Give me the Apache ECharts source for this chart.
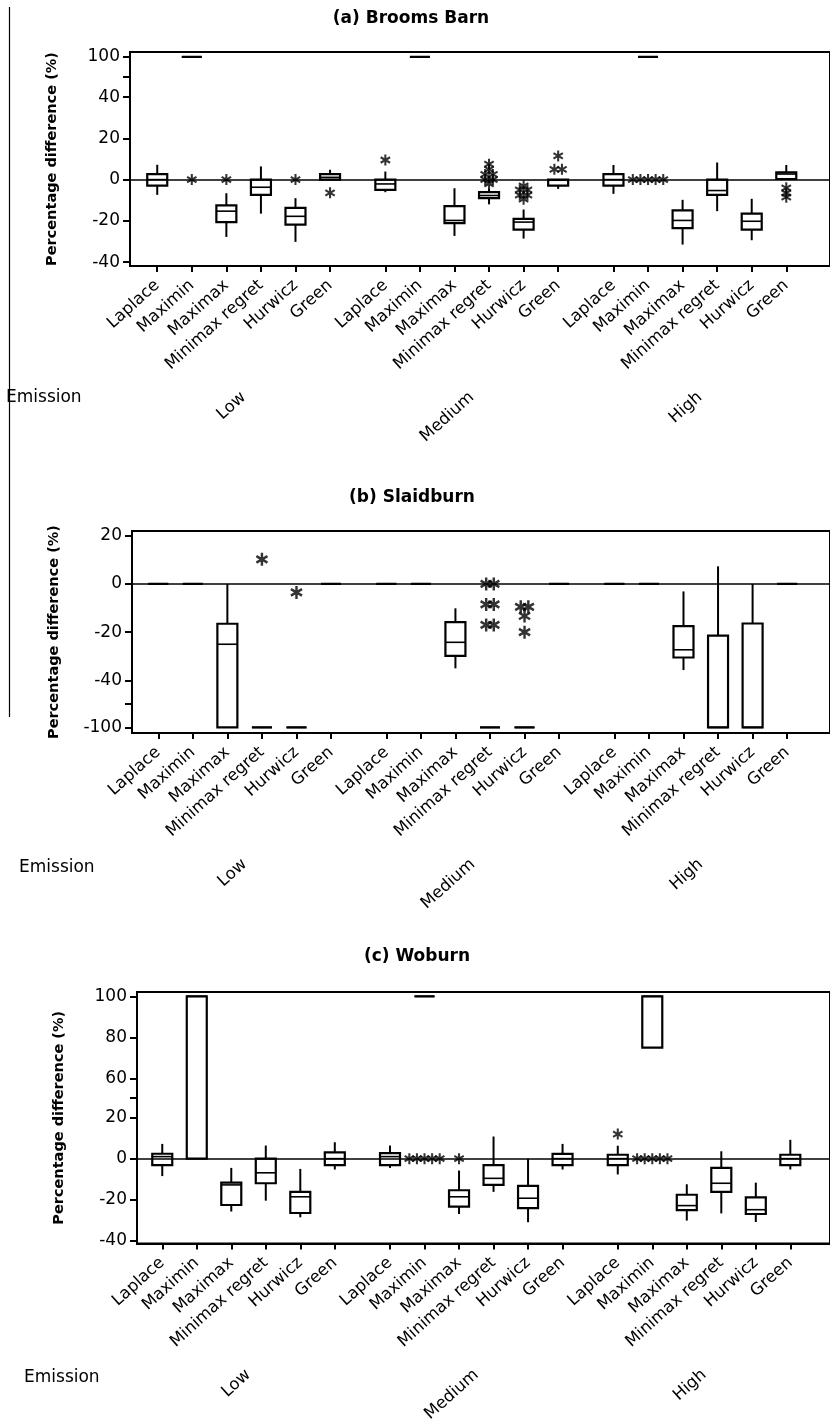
<!DOCTYPE html>
<html><head><meta charset="utf-8">
<script src="https://cdn.jsdelivr.net/npm/echarts@6/dist/echarts.min.js"></script>
<style>html,body{margin:0;padding:0;background:#fff}#c{width:830px;height:1425px}</style>
</head><body><div id="c"></div>
<script>
// ---------- categories and labels ----------
const methods = ['Laplace', 'Maximin', 'Maximax', 'Minimax regret', 'Hurwicz', 'Green'];
const emissions = ['Low', 'Medium', 'High'];
const panelTitles = ['(a) Brooms Barn', '(b) Slaidburn', '(c) Woburn'];
const yAxisTitle = 'Percentage difference (%)';
const rowLabel = 'Emission';

// ---------- tick labels ----------
const yTickLabelsA = [-40, -20, 0, 20, 40, 100];
const yTickMarksA = [-40, -20, 0, 20, 40, 70, 100];
const yTickLabelsB = [-100, -40, -20, 0, 20];
const yTickMarksB = [-100, -70, -40, -20, 0, 20];
const yTickLabelsC = [-40, -20, 0, 20, 60, 80, 100];
const yTickMarksC = [-40, -20, 0, 20, 40, 60, 80, 100];

// ---------- box values [min, Q1, median, Q3, max]; order: Low x6, Medium x6, High x6 ----------
const boxesA = [
  [-7.4, -2.9, 0, 2.7, 7.2], [100, 100, 100, 100, 100], [-27.8, -20.6, -15.3, -12.5, -6.6],
  [-16.5, -7.4, -3.7, 0, 6.4], [-30.2, -21.8, -17.8, -13.7, -9], [0, 0, 1.1, 2.7, 4.8],
  [-6.1, -5, -2.1, 0, 3.9], [100, 100, 100, 100, 100], [-27.3, -21.1, -19.8, -12.9, -4.2],
  [-12, -9, -7.7, -6.1, -4.5], [-28.6, -24.3, -20.6, -19, -14.5], [-4.5, -2.9, -0.3, 0, 0],
  [-6.9, -2.9, 0, 2.7, 7.1], [100, 100, 100, 100, 100], [-31.5, -23.5, -19.8, -14.9, -9.8],
  [-15.3, -7.4, -5.3, 0, 8.3], [-29.4, -24.3, -20.2, -16.5, -9.3], [0.3, 0.3, 2.7, 3.5, 7.1]
];
const outliersA = [
  [], [0], [0], [], [0], [-6.4],
  [9.5], [], [], [7.5, 5, 2.5, 2.5, 0, 0, -2], [-3, -5, -5, -7.5, -7.5, -9.5], [11.5, 5, 5],
  [], [0, 0, 0, 0, 0], [], [], [], [-4, -6.5, -8.5]
];
const boxesB = [
  [0, 0, 0, 0, 0], [0, 0, 0, 0, 0], [-100, -100, -25, -16.5, 0],
  [-100, -100, -100, -100, -100], [-100, -100, -100, -100, -100], [0, 0, 0, 0, 0],
  [0, 0, 0, 0, 0], [0, 0, 0, 0, 0], [-35, -29.8, -24.2, -15.8, -10.1],
  [-100, -100, -100, -100, -100], [-100, -100, -100, -100, -100], [0, 0, 0, 0, 0],
  [0, 0, 0, 0, 0], [0, 0, 0, 0, 0], [-35.7, -30.5, -27.3, -17.5, -3.1],
  [-100, -100, -100, -21.4, 7.3], [-100, -100, -100, -16.4, 0], [0, 0, 0, 0, 0]
];
const outliersB = [
  [], [], [], [10.2], [-3.5], [],
  [], [], [], [0, 0, -8.5, -8.5, -17, -17], [-9.5, -9.5, -13.3, -20], [],
  [], [], [], [], [], []
];
const boxesC = [
  [-8.5, -3.2, 1, 2.4, 7.2], [0, 0, 100, 100, 100], [-25.8, -22.6, -12.8, -11.7, -4.5],
  [-20.5, -12, -6.9, 0, 6.4], [-28.6, -26.5, -18.6, -16.2, -5], [-5.3, -3.2, 0, 3.1, 8],
  [-4.5, -3.2, 1, 2.7, 6.4], [100, 100, 100, 100, 100], [-27, -23.4, -18.6, -15.4, -5.8],
  [-16.2, -12.8, -9.6, -3.2, 10.8], [-31, -24.1, -19.3, -13.3, 0], [-5.3, -3.2, 0, 2.3, 7.2],
  [-7.7, -3.2, 0, 1.9, 6.3], [75, 75, 100, 100, 100], [-30.2, -25.1, -22.9, -17.6, -12.5],
  [-26.7, -16.2, -12, -4.5, 3.6], [-30.9, -27, -24.9, -18.9, -11.7], [-5.3, -3.2, 0, 1.9, 9.2]
];
const outliersC = [
  [], [], [], [], [], [],
  [], [0, 0, 0, 0, 0], [0], [], [], [],
  [12], [0, 0, 0, 0, 0], [], [], [], []
];

// ---------- layout (positions on the value x-axis, group gap between emission levels) ----------
const GROUP_GAP = 0.6;
const positions = [];
emissions.forEach((e, g) => methods.forEach((m, i) => positions.push(g * (methods.length + GROUP_GAP) + i)));
const groupCenters = emissions.map((e, g) => {
  const p = positions.slice(g * methods.length, (g + 1) * methods.length);
  return (p[0] + p[p.length - 1]) / 2;
});
const FONT = 'DejaVu Sans';
const STAR = 'path://M-1.9,-10L1.9,-10L1.9,10L-1.9,10Z M7.71,-6.65L9.61,-3.35L-7.71,6.65L-9.61,3.35Z M-9.61,-3.35L-7.71,-6.65L9.61,3.35L7.71,6.65Z';

const panels = [
  { boxes: boxesA, outliers: outliersA, yLabels: yTickLabelsA, yMarks: yTickMarksA,
    grid: { left: 130, top: 52, width: 720, height: 214 }, xMin: -0.788, xMax: 19.465,
    yMin: -41.9, yMax: 102.4, breaks: [{ start: 40, end: 70, gap: 9.75 }, { start: 70, end: 100, gap: 9.75 }],
    star: 11, title: [411, 19], emission: [6, 398] },
  { boxes: boxesB, outliers: outliersB, yLabels: yTickLabelsB, yMarks: yTickMarksB,
    grid: { left: 132, top: 531, width: 718, height: 202 }, xMin: -0.76, xMax: 19.44,
    yMin: -102.3, yMax: 21.95, breaks: [{ start: -100, end: -70, gap: 9.75 }, { start: -70, end: -40, gap: 9.75 }],
    star: 13, title: [412, 498], emission: [19, 868] },
  { boxes: boxesC, outliers: outliersC, yLabels: yTickLabelsC, yMarks: yTickMarksC,
    grid: { left: 137, top: 992, width: 713, height: 256 }, xMin: -0.732, xMax: 19.35,
    yMin: -41.4, yMax: 102.1, breaks: [{ start: 20, end: 40, gap: 9.6 }, { start: 40, end: 60, gap: 9.6 }],
    star: 11, title: [417, 957], emission: [24, 1378] }
];

function nameAt(list, names, v) {
  const k = list.findIndex(p => Math.abs(p - v) < 1e-6);
  return k < 0 ? '' : names[k % names.length];
}

function renderBox(params, api) {
  const x = api.value(0);
  const pMin = api.coord([x, api.value(1)]);
  const pQ1 = api.coord([x, api.value(2)]);
  const pMed = api.coord([x, api.value(3)]);
  const pQ3 = api.coord([x, api.value(4)]);
  const pMax = api.coord([x, api.value(5)]);
  const hw = 10;
  const ln = { stroke: '#000', lineWidth: 2 };
  return {
    type: 'group',
    children: [
      { type: 'line', shape: { x1: pMin[0], y1: pMin[1], x2: pQ1[0], y2: pQ1[1] }, style: ln },
      { type: 'line', shape: { x1: pQ3[0], y1: pQ3[1], x2: pMax[0], y2: pMax[1] }, style: ln },
      { type: 'rect', shape: { x: pQ3[0] - hw, y: pQ3[1], width: 2 * hw, height: pQ1[1] - pQ3[1] },
        style: { fill: '#fff', stroke: '#000', lineWidth: 2.2 } },
      { type: 'line', shape: { x1: pMed[0] - hw, y1: pMed[1], x2: pMed[0] + hw, y2: pMed[1] },
        style: { stroke: '#000', lineWidth: 1.6 } }
    ]
  };
}

const grids = [], xAxes = [], yAxes = [], series = [], graphics = [];
panels.forEach((P, i) => {
  grids.push(Object.assign({ show: true, borderColor: '#000', borderWidth: 2, backgroundColor: 'transparent' }, P.grid));
  xAxes.push({
    type: 'value', gridIndex: i, min: P.xMin, max: P.xMax, position: 'bottom',
    splitLine: { show: false },
    axisLine: { show: true, onZero: false, lineStyle: { color: '#000', width: 2 } },
    axisTick: { show: true, customValues: positions, length: 6, lineStyle: { color: '#000', width: 2 } },
    axisLabel: { show: true, customValues: positions, rotate: 42, margin: 17, color: '#000',
      fontFamily: FONT, fontSize: 16.5, formatter: v => nameAt(positions, methods, v) }
  });
  xAxes.push({
    type: 'value', gridIndex: i, min: P.xMin, max: P.xMax, position: 'bottom',
    splitLine: { show: false }, axisLine: { show: false }, axisTick: { show: false },
    axisLabel: { show: true, customValues: groupCenters, rotate: 42, margin: 129, color: '#000',
      fontFamily: FONT, fontSize: 16.5, formatter: v => nameAt(groupCenters, emissions, v) }
  });
  yAxes.push({
    type: 'value', gridIndex: i, min: P.yMin, max: P.yMax,
    breaks: P.breaks, breakArea: { show: false },
    name: yAxisTitle, nameLocation: 'middle', nameGap: 70,
    nameTextStyle: { fontFamily: FONT, fontWeight: 'bold', fontSize: 14.5, color: '#000' },
    splitLine: { show: false },
    axisLine: { show: true, onZero: false, lineStyle: { color: '#000', width: 2 } },
    axisTick: { show: true, customValues: P.yMarks, length: 7, lineStyle: { color: '#000', width: 2 } },
    axisLabel: { show: true, customValues: P.yLabels, margin: 10, color: '#000', fontFamily: FONT, fontSize: 17 }
  });
  series.push({
    type: 'custom', xAxisIndex: 2 * i, yAxisIndex: i, silent: true, z: 3,
    encode: { x: 0, y: [1, 2, 3, 4, 5] },
    data: P.boxes.map((b, k) => [positions[k]].concat(b)),
    renderItem: renderBox
  });
  const pts = [];
  P.outliers.forEach((list, k) => {
    const counts = {};
    list.forEach(v => { counts[v] = (counts[v] || 0) + 1; });
    const seen = {};
    list.forEach(v => {
      const n = counts[v]; const j = seen[v] = (seen[v] === undefined ? 0 : seen[v] + 1);
      pts.push([positions[k] + (j - (n - 1) / 2) * 0.22, v]);
    });
  });
  series.push({
    type: 'scatter', xAxisIndex: 2 * i, yAxisIndex: i, silent: true, z: 4,
    symbol: STAR, symbolSize: [P.star * 0.95, P.star], itemStyle: { color: '#000' },
    data: pts,
    markLine: { silent: true, symbol: ['none', 'none'], label: { show: false },
      lineStyle: { color: '#000', width: 1.6, type: 'solid' }, data: [{ yAxis: 0 }] }
  });
  graphics.push({ type: 'text', x: P.title[0], y: P.title[1],
    style: { text: panelTitles[i], align: 'center', verticalAlign: 'middle', fill: '#000',
      font: 'bold 17px "DejaVu Sans"' } });
  graphics.push({ type: 'text', x: P.emission[0], y: P.emission[1],
    style: { text: rowLabel, align: 'left', verticalAlign: 'middle', fill: '#000',
      font: '17px "DejaVu Sans"' } });
});
graphics.push({ type: 'line', shape: { x1: 9.5, y1: 7, x2: 9.5, y2: 717 }, style: { stroke: '#000', lineWidth: 1.2 } });

const chart = echarts.init(document.getElementById('c'));
chart.setOption({
  animation: false,
  backgroundColor: '#fff',
  grid: grids, xAxis: xAxes, yAxis: yAxes, series: series, graphic: graphics
});
</script></body></html>
